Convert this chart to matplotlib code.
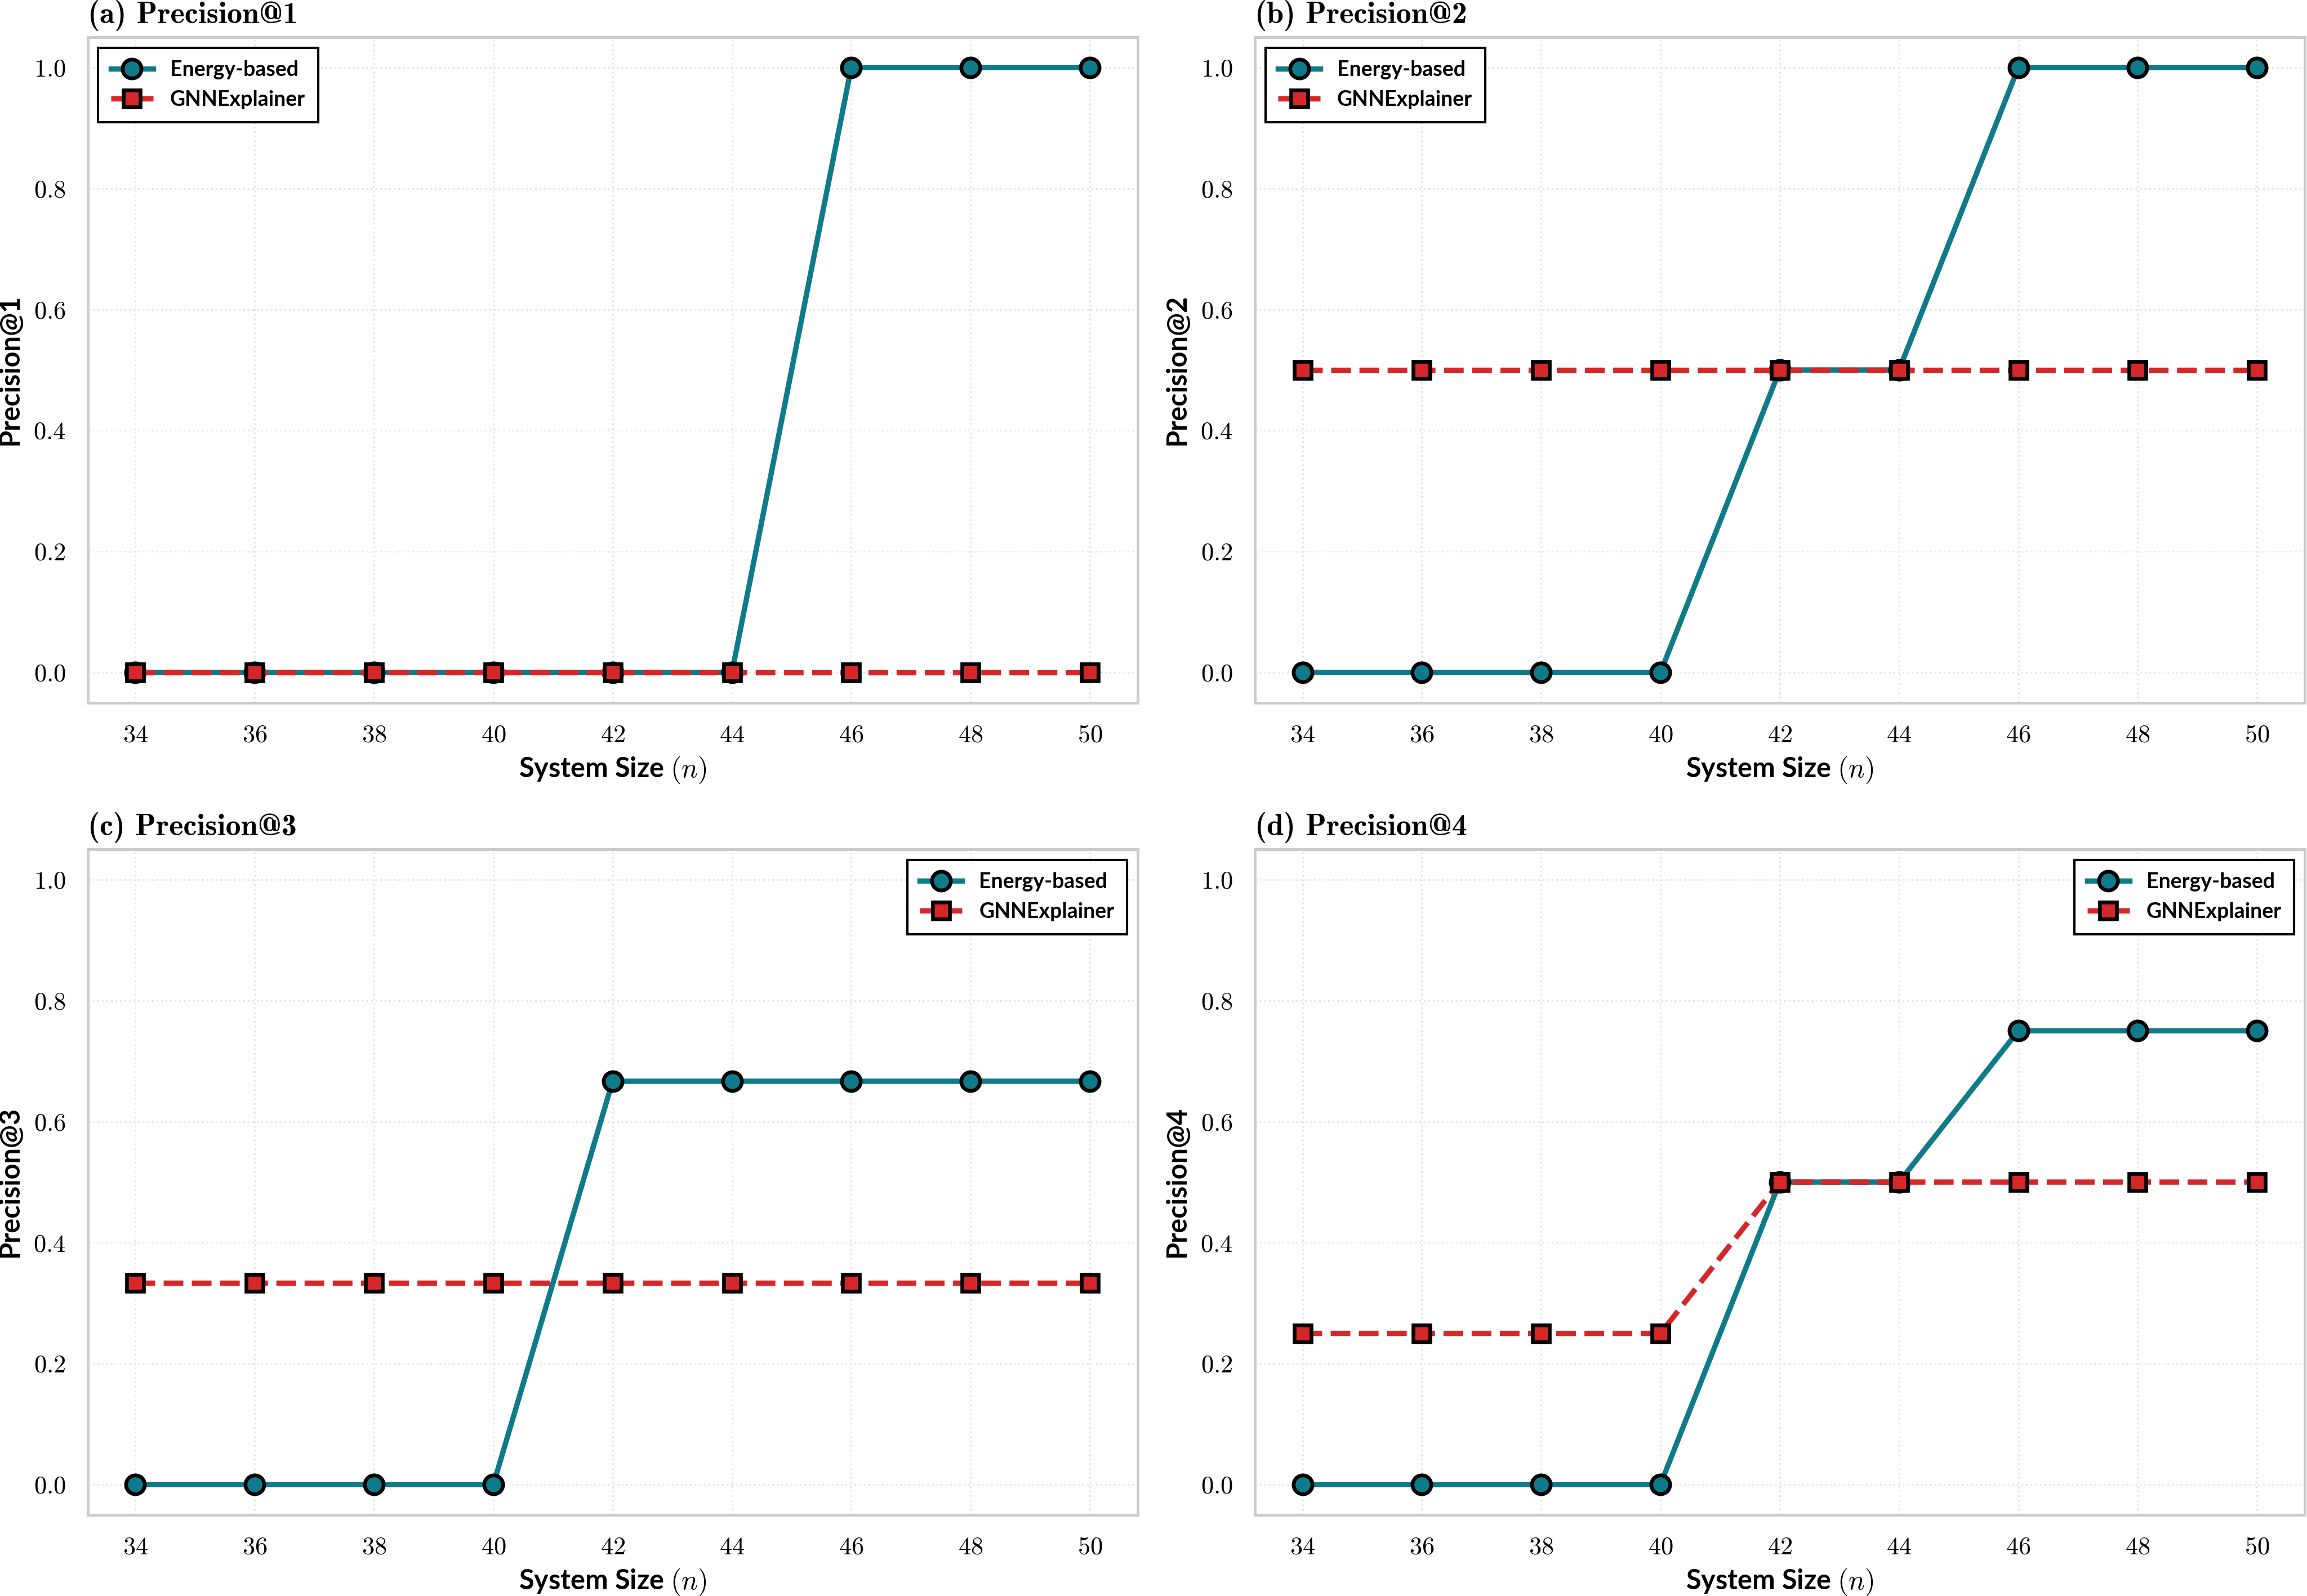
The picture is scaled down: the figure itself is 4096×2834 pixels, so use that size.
import numpy as np
import matplotlib
matplotlib.use("Agg")
import matplotlib.pyplot as plt

# datos
sizes = [34, 36, 38, 40, 42, 44, 46, 48, 50]
energy_p1 = [0, 0, 0, 0, 0, 0, 1.0, 1.0, 1.0]
gnn_p1 = [0, 0, 0, 0, 0, 0, 0, 0, 0]
energy_p2 = [0, 0, 0, 0, 0.5, 0.5, 1.0, 1.0, 1.0]
gnn_p2 = [0.5, 0.5, 0.5, 0.5, 0.5, 0.5, 0.5, 0.5, 0.5]
energy_p3 = [0, 0, 0, 0, 2/3, 2/3, 2/3, 2/3, 2/3]
gnn_p3 = [1/3, 1/3, 1/3, 1/3, 1/3, 1/3, 1/3, 1/3, 1/3]
energy_p4 = [0, 0, 0, 0, 0.5, 0.5, 0.75, 0.75, 0.75]
gnn_p4 = [0.25, 0.25, 0.25, 0.25, 0.5, 0.5, 0.5, 0.5, 0.5]

titles = ["(a) Precision@1", "(b) Precision@2", "(c) Precision@3", "(d) Precision@4"]
ylabels = ["Precision@1", "Precision@2", "Precision@3", "Precision@4"]
legend_locs = ["upper left", "upper left", "upper right", "upper right"]

TEAL = "#0f7b8a"
RED = "#d62728"

plt.rcParams["mathtext.fontset"] = "cm"
plt.rcParams["axes.formatter.use_mathtext"] = True

SANS = "Lato"

fig, axes = plt.subplots(2, 2, figsize=(20.48, 14.17), dpi=200)
fig.subplots_adjust(left=0.038, right=0.999, bottom=0.0508, top=0.9767,
                    wspace=0.1116, hspace=0.22)

series = [(energy_p1, gnn_p1), (energy_p2, gnn_p2),
          (energy_p3, gnn_p3), (energy_p4, gnn_p4)]

for i, ax in enumerate(axes.flat):
    e, g = series[i]
    ax.plot(sizes, e, color=TEAL, lw=3.4, marker="o", ms=12,
            mfc=TEAL, mec="black", mew=2.4, label="Energy-based", zorder=3)
    ax.plot(sizes, g, color=RED, lw=3.4, ls="--", marker="s", ms=10.6,
            mfc=RED, mec="black", mew=2.4, label="GNNExplainer", zorder=4)

    ax.set_xlim(33.2, 50.8)
    ax.set_ylim(-0.05, 1.05)
    ax.set_xticks(sizes)
    ax.set_yticks([0.0, 0.2, 0.4, 0.6, 0.8, 1.0])
    ax.tick_params(length=0, pad=14, labelsize=16)
    for lab in ax.get_xticklabels() + ax.get_yticklabels():
        lab.set_fontfamily("cmr10")

    ax.grid(True, color="#e6e6e6", ls=":", lw=1.1)
    ax.set_axisbelow(True)
    for sp in ax.spines.values():
        sp.set_color("#cccccc")
        sp.set_linewidth(1.8)

    ax.set_title(titles[i], loc="left", fontsize=19.5, fontweight="bold",
                 family=["cmb10", "DejaVu Serif"], pad=9)
    ax.set_xlabel(r"System Size $(n)$", fontsize=17.5, fontweight="bold",
                  family=SANS, labelpad=5)
    ax.set_ylabel(ylabels[i], fontsize=17.5, fontweight="bold",
                  family=SANS, labelpad=7)

    leg = ax.legend(loc=legend_locs[i], fancybox=False, framealpha=1,
                    edgecolor="black", handlelength=2.0, borderpad=0.6,
                    prop={"family": SANS, "weight": "bold", "size": 13.5})
    leg.get_frame().set_linewidth(1.5)

fig.savefig("out.png", dpi=200)
